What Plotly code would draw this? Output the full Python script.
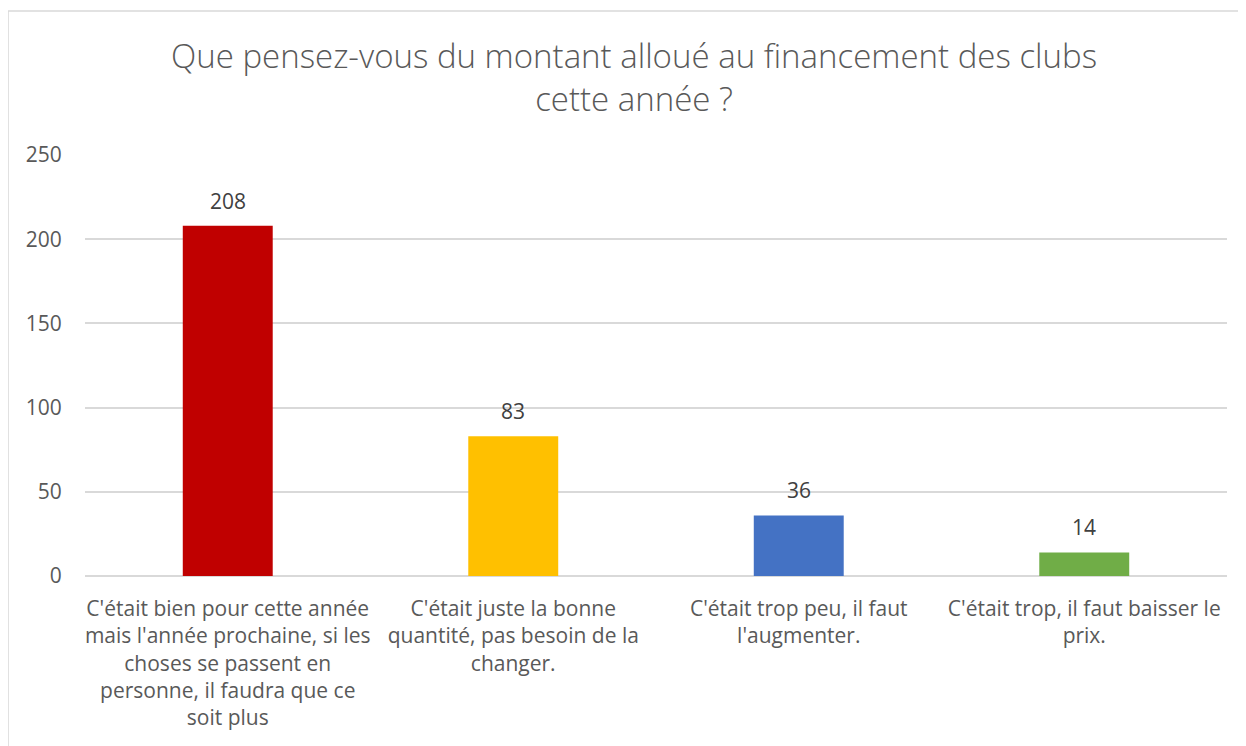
import plotly.graph_objects as go

categories = [
    "C'était bien pour cette année<br>mais l'année prochaine, si les<br>choses se passent en<br>personne, il faudra que ce<br>soit plus",
    "C'était juste la bonne<br>quantité, pas besoin de la<br>changer.",
    "C'était trop peu, il faut<br>l'augmenter.",
    "C'était trop, il faut baisser le<br>prix.",
]
counts = [208, 83, 36, 14]
colors = ["#C00000", "#FFC000", "#4472C4", "#70AD47"]
y_ticks = [0, 50, 100, 150, 200, 250]

txt = "#595959"
fnt = "Open Sans, sans-serif"

fig = go.Figure()
fig.add_trace(go.Bar(
    x=categories, y=counts,
    marker=dict(color=colors, line=dict(width=0)),
    width=0.315,
    hoverinfo="x+y",
))

# value labels above the bars
for c, v in zip(categories, counts):
    fig.add_annotation(x=c, y=v, text=str(v), showarrow=False,
                       yanchor="bottom", yshift=9,
                       font=dict(family=fnt, size=21, color="#404040"))

# chart frame (top and left edge)
fig.add_shape(type="line", xref="paper", yref="paper", x0=-0.0674, x1=1.2, y0=1.342, y1=1.342,
              line=dict(color="#d9d9d9", width=1.5))
fig.add_shape(type="line", xref="paper", yref="paper", x0=-0.0674, x1=-0.0674, y0=1.342, y1=-0.5,
              line=dict(color="#d9d9d9", width=1.5))

fig.update_layout(
    width=1238, height=738,
    margin=dict(l=77, r=19, t=147, b=170),
    paper_bgcolor="white", plot_bgcolor="white",
    showlegend=False,
    title=dict(
        text="Que pensez-vous du montant alloué au financement des clubs<br>cette année ?",
        x=626 / 1238, xanchor="center", y=0.9186, yanchor="top",
        font=dict(family=fnt, size=33, color=txt, weight=300),
    ),
    font=dict(family=fnt, color=txt),
)
fig.update_xaxes(
    tickfont=dict(family=fnt, size=21, color=txt),
    showline=False, ticks="", ticklabelstandoff=18,
)
fig.update_yaxes(
    range=[0, 250], tickvals=y_ticks,
    tickfont=dict(family=fnt, size=21, color=txt),
    showgrid=True, gridcolor="#d9d9d9", gridwidth=1.5,
    zeroline=True, zerolinecolor="#d9d9d9", zerolinewidth=1.5,
    ticks="outside", ticklen=18, tickcolor="white",
)

fig.write_html("out.html")
